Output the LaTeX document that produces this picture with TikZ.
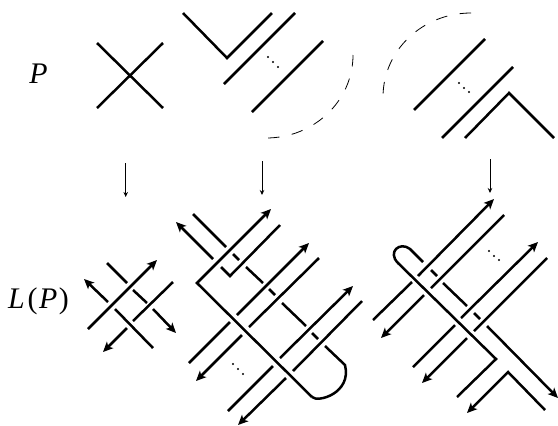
\documentclass[tikz,border=0pt]{standalone}
\usepackage{fontspec}
\setmainfont{Liberation Serif}
\usetikzlibrary{arrows.meta}
\begin{document}
\begin{tikzpicture}[
  x=1bp, y=-1bp,
  strand/.style={line width=2.5bp, line cap=butt, line join=miter},
  over/.style={strand, -{Stealth[length=10bp, width=9bp, inset=2.5bp]}},
  guide/.style={line width=0.8bp, dash pattern=on 11.5bp off 12.5bp},
  maparrow/.style={line width=0.8bp, -{Stealth[length=5bp, width=4.5bp]}},
  tag/.style={font=\fontsize{30}{32}\selectfont\itshape, inner sep=0pt}
]
\useasboundingbox (0,0) rectangle (558,425);
\node[tag] (labelP) at (38.5,74) {P};
\node[tag] (labelLP) at (38.5,301) {L\kern3bp\textup{(}\kern1.5bp P\kern1.5bp\textup{)}};

% top row
\draw[strand] (97,43) -- (163,108);
\draw[strand] (163,43) -- (97,108);
\draw[strand] (183,13) -- (227,58) -- (272,13);
\draw[strand] (295,13) -- (224,84);
\draw[strand] (323,41) -- (252,112);
\draw[strand] (485,39) -- (414,110);
\draw[strand] (513,67) -- (442,138);
\draw[strand] (465,138) -- (509,93) -- (554,138);
\draw[guide] (353,55) arc[start angle=0, end angle=-90, x radius=87bp, y radius=83bp];
\draw[guide] (471,13) arc[start angle=90, end angle=180, x radius=88bp, y radius=84bp];
\foreach \x/\y in {268/57, 273/62, 278/67, 459/83, 464/88, 469/92, 233/364, 238/369, 243/374, 489/251, 494/256, 499/260}
  \fill (\x,\y) circle (1.1bp);

% vertical maps
\coordinate (top1) at (125.7,163);
\coordinate (bot1) at (125.7,197);
\coordinate (top2) at (262,161);
\coordinate (bot2) at (262,195);
\coordinate (top3) at (490,159);
\coordinate (bot3) at (490,193);
\draw[maparrow] (top1) -- (bot1);
\draw[maparrow] (top2) -- (bot2);
\draw[maparrow] (top3) -- (bot3);

% first link
\draw[over] (88,329) -- (157,260);
\draw[over] (108,302) -- (84,279);
\draw[strand] (107,263) -- (127,283);
\draw[strand] (133,290) -- (147,303);
\draw[over] (153,309) -- (176,333);
\draw[strand] (173,282) -- (133,321);
\draw[over] (127,328) -- (103,352);
\draw[strand] (115,309) -- (153,348);

% second link
\draw[over] (312,397) -- (197,283) -- (271,209);
\draw[strand] (312,397) .. controls (318,403) and (352,393) .. (345,365) -- (325,346);
\draw[over] (213,259) -- (176,222);
\draw[strand] (193,214) -- (226,247);
\draw[strand] (233,254) -- (239,260);
\draw[strand] (221,267) -- (230,276) -- (280,225);
\draw[strand] (246,267) -- (263,283);
\draw[strand] (269,289) -- (275,295);
\draw[strand] (282,303) -- (306,326);
\draw[strand] (312,333) -- (318,339);
\draw[over] (237,315) -- (309,243);
\draw[strand] (249,327) -- (319,258);
\draw[strand] (230,322) -- (189,363);
\draw[over] (242,335) -- (196,381);
\draw[over] (280,358) -- (353,286);
\draw[strand] (293,371) -- (362,301);
\draw[strand] (273,366) -- (228,411);
\draw[over] (286,378) -- (238,425);

% third link
\draw[over] (418,276) -- (494,199);
\draw[strand] (431,288) -- (504,215);
\draw[strand] (412,282) -- (373,320);
\draw[over] (424,295) -- (381,338);
\draw[strand] (423,262) -- (410,249) .. controls (400,241) and (387,252) .. (398,263) -- (496,359) -- (457,397);
\draw[strand] (431,270) -- (437,276);
\draw[strand] (443,283) -- (467,306);
\draw[strand] (474,313) -- (480,319);
\draw[over] (487,326) -- (558,398);
\draw[over] (461,318) -- (538,242);
\draw[strand] (474,331) -- (547,258);
\draw[strand] (455,325) -- (413,367);
\draw[over] (467,338) -- (422,383);
\draw[over] (545,410) -- (508,372) -- (467,413);
\end{tikzpicture}
\end{document}
